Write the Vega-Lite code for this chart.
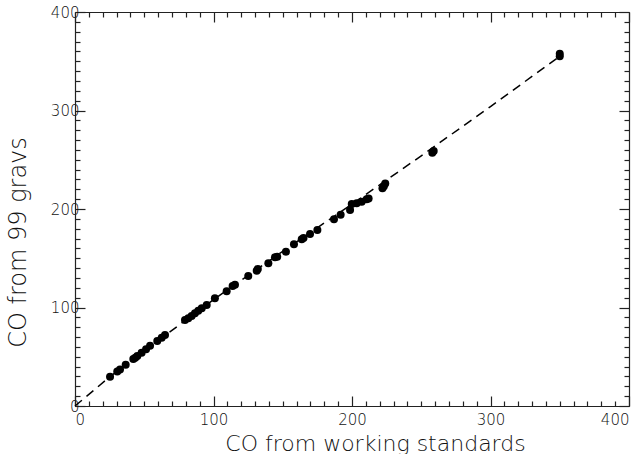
{
  "$schema": "https://vega.github.io/schema/vega-lite/v6.json",
  "width": 554,
  "height": 394,
  "autosize": {"type": "none"},
  "padding": {"left": 75, "top": 12, "right": 5, "bottom": 48},
  "background": "white",
  "config": {
    "view": {"stroke": null},
    "axis": {
      "grid": false,
      "domainColor": "#222222",
      "domainWidth": 1.2,
      "tickColor": "#222222",
      "tickWidth": 1.2,
      "labelFont": "DejaVu Sans",
      "labelFontWeight": 300,
      "labelFontSize": 15,
      "labelColor": "#111111",
      "labelOverlap": false,
      "titleFont": "DejaVu Sans",
      "titleFontWeight": 300,
      "titleColor": "#111111"
    }
  },
  "datasets": {
    "fit": [
      {"x": 0, "y": 0},
      {"x": 25, "y": 29.5},
      {"x": 50, "y": 56},
      {"x": 100, "y": 108},
      {"x": 150, "y": 157},
      {"x": 200, "y": 205},
      {"x": 250, "y": 254},
      {"x": 300, "y": 304},
      {"x": 350, "y": 355}
    ],
    "points": [
      {"x": 25.3, "y": 29.7}, {"x": 30.5, "y": 35}, {"x": 32.5, "y": 37},
      {"x": 36.6, "y": 41.9}, {"x": 42.1, "y": 47.7}, {"x": 43.5, "y": 49},
      {"x": 45, "y": 50.8}, {"x": 48.1, "y": 54.1}, {"x": 51.3, "y": 57.5},
      {"x": 54.2, "y": 61.2}, {"x": 59.4, "y": 66}, {"x": 62.6, "y": 69.4},
      {"x": 65, "y": 72.1}, {"x": 79.4, "y": 87.3}, {"x": 81.8, "y": 89},
      {"x": 84.2, "y": 91.4}, {"x": 86.6, "y": 94.1}, {"x": 89, "y": 96.8},
      {"x": 91.5, "y": 99.2}, {"x": 95.1, "y": 102.5}, {"x": 101, "y": 109.3},
      {"x": 109.5, "y": 116.4}, {"x": 113.8, "y": 121.8}, {"x": 115.5, "y": 123.2},
      {"x": 125.1, "y": 132}, {"x": 131.2, "y": 137.4}, {"x": 132, "y": 139},
      {"x": 139.6, "y": 144.9}, {"x": 144.4, "y": 150.9}, {"x": 146, "y": 151.5},
      {"x": 152.3, "y": 156.7}, {"x": 158.1, "y": 164.2}, {"x": 163.7, "y": 169.2},
      {"x": 165, "y": 170.5}, {"x": 169.7, "y": 174.6}, {"x": 175, "y": 178.7},
      {"x": 187, "y": 189.5}, {"x": 191.8, "y": 194.2}, {"x": 198.6, "y": 199},
      {"x": 199.8, "y": 205.1}, {"x": 203.4, "y": 205.8}, {"x": 207, "y": 207.4},
      {"x": 210.6, "y": 209.8}, {"x": 212, "y": 210.7}, {"x": 222, "y": 221},
      {"x": 223, "y": 223}, {"x": 224, "y": 226}, {"x": 258, "y": 257},
      {"x": 259, "y": 259}, {"x": 350, "y": 355}, {"x": 350, "y": 357.5}
    ]
  },
  "layer": [
    {
      "data": {"name": "fit"},
      "mark": {"type": "line", "color": "black", "strokeWidth": 1.5, "strokeDash": [9, 6]},
      "encoding": {
        "x": {
          "field": "x", "type": "quantitative",
          "scale": {"domain": [0, 400], "nice": false, "zero": false},
          "axis": {
            "orient": "bottom",
            "title": "CO from working standards",
            "titleFontSize": 22,
            "titleX": 300,
            "titleY": 37,
            "titleAlign": "center",
            "titleBaseline": "middle",
            "values": [0,10,20,30,40,50,60,70,80,90,100,110,120,130,140,150,160,170,180,190,200,210,220,230,240,250,260,270,280,290,300,310,320,330,340,350,360,370,380,390,400],
            "labelExpr": "datum.value % 100 === 0 ? datum.value : ''",
            "tickSize": {"condition": {"test": "datum.value % 100 === 0", "value": -10}, "value": -5},
            "labelPadding": 16
          }
        },
        "y": {
          "field": "y", "type": "quantitative",
          "scale": {"domain": [0, 400], "nice": false, "zero": false},
          "axis": {
            "orient": "left",
            "title": "CO from 99 gravs",
            "titleFontSize": 24,
            "titleX": -57,
            "titleY": 230,
            "titleBaseline": "middle",
            "titleAlign": "center",
            "titleAngle": -90,
            "values": [0,10,20,30,40,50,60,70,80,90,100,110,120,130,140,150,160,170,180,190,200,210,220,230,240,250,260,270,280,290,300,310,320,330,340,350,360,370,380,390,400],
            "labelExpr": "datum.value % 100 === 0 ? datum.value : ''",
            "tickSize": {"condition": {"test": "datum.value % 100 === 0", "value": -10}, "value": -5},
            "labelPadding": 6
          }
        }
      }
    },
    {
      "data": {"name": "points"},
      "mark": {"type": "circle", "color": "black", "opacity": 1, "size": 64},
      "encoding": {
        "x": {
          "field": "x", "type": "quantitative",
          "axis": {
            "orient": "top",
            "title": null,
            "labels": false,
            "values": [0,10,20,30,40,50,60,70,80,90,100,110,120,130,140,150,160,170,180,190,200,210,220,230,240,250,260,270,280,290,300,310,320,330,340,350,360,370,380,390,400],
            "tickSize": {"condition": {"test": "datum.value % 100 === 0", "value": -10}, "value": -5}
          }
        },
        "y": {
          "field": "y", "type": "quantitative",
          "axis": {
            "orient": "right",
            "title": null,
            "labels": false,
            "values": [0,10,20,30,40,50,60,70,80,90,100,110,120,130,140,150,160,170,180,190,200,210,220,230,240,250,260,270,280,290,300,310,320,330,340,350,360,370,380,390,400],
            "tickSize": {"condition": {"test": "datum.value % 100 === 0", "value": -10}, "value": -5}
          }
        }
      }
    }
  ],
  "resolve": {"axis": {"x": "independent", "y": "independent"}}
}
